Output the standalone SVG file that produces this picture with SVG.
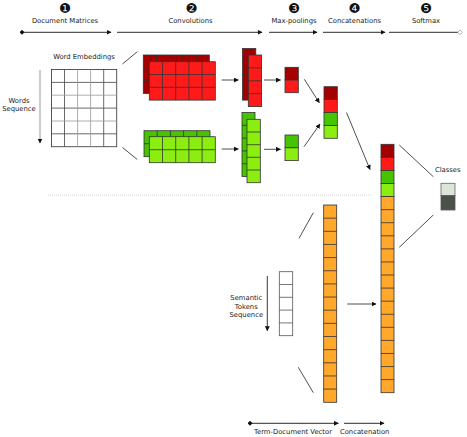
<svg xmlns="http://www.w3.org/2000/svg" width="467" height="437" viewBox="0 0 467 437">
<defs>
<marker id="ah" viewBox="0 0 10 10" refX="9" refY="5" markerWidth="5" markerHeight="5" markerUnits="userSpaceOnUse" orient="auto"><path d="M0,0 L10,5 L0,10 z" fill="#111"/></marker>
<marker id="dm" viewBox="0 0 10 10" refX="5" refY="5" markerWidth="5" markerHeight="5" markerUnits="userSpaceOnUse" orient="auto"><path d="M0,5 L5,0 L10,5 L5,10 z" fill="#111"/></marker>
<marker id="dmo" viewBox="0 0 10 10" refX="5" refY="5" markerWidth="6" markerHeight="6" markerUnits="userSpaceOnUse" orient="auto"><path d="M1,5 L5,1 L9,5 L5,9 z" fill="#fff" stroke="#999" stroke-width="1.3"/></marker>
</defs>
<style>
text{font-family:"DejaVu Sans","Liberation Sans",sans-serif;font-size:6.8px;fill:#222;text-anchor:middle}
.num{font-size:13.5px;fill:#111}
.cell{stroke:#333;stroke-width:0.8}
.div{fill:none;stroke:#333;stroke-width:0.8}
.dr{fill:#a30000}
.rd{fill:#ff1a1a}
.dg{fill:#46c400}
.lg{fill:#8ced10}
.or{fill:#ffa82c}
.wh{fill:#fff}
.ln{fill:none;stroke:#222;stroke-width:0.8}
.hd{fill:none;stroke:#555;stroke-width:1.3}
</style>
<rect width="467" height="437" fill="#fff"/>

<g id="header">
<text class="num" x="65" y="13">❶</text>
<text class="num" x="191.5" y="13">❷</text>
<text class="num" x="294" y="13">❸</text>
<text class="num" x="354.5" y="13">❹</text>
<text class="num" x="426" y="13">❺</text>
<text x="65" y="23">Document Matrices</text>
<text x="190.5" y="23">Convolutions</text>
<text x="294" y="23">Max-poolings</text>
<text x="354.5" y="23">Concatenations</text>
<text x="426" y="23">Softmax</text>
</g>

<g id="word-matrix">
<rect class="wh" x="51.5" y="69.5" width="65.2" height="77.2" stroke="#444" stroke-width="0.9"/>
<path fill="none" stroke="#444" stroke-width="0.8" d="M64.5,69.5V146.7M103.7,69.5V146.7M51.5,82.4H116.7M51.5,108.1H116.7M51.5,133.8H116.7"/>
<path fill="none" stroke="#999" stroke-width="0.8" d="M77.6,69.5V146.7M90.6,69.5V146.7M51.5,95.2H116.7M51.5,121H116.7"/>
<text x="84" y="58.5">Word Embeddings</text>
<text x="19" y="103">Words</text>
<text x="19" y="111">Sequence</text>
</g>

<g id="conv-red">
<rect class="cell dr" x="143.3" y="55" width="66" height="38.4"/>
<path class="div" d="M156.5,55V93.4M169.7,55V93.4M182.9,55V93.4M196.1,55V93.4M143.3,67.8H209.3M143.3,80.6H209.3"/>
<rect class="cell rd" x="149.3" y="61.7" width="66" height="38.4"/>
<path class="div" d="M162.5,61.7V100.1M175.7,61.7V100.1M188.9,61.7V100.1M202.1,61.7V100.1M149.3,74.5H215.3M149.3,87.3H215.3"/>
</g>

<g id="conv-green">
<rect class="cell dg" x="144" y="130.7" width="66" height="26"/>
<path class="div" d="M157.2,130.7V156.7M170.4,130.7V156.7M183.6,130.7V156.7M196.8,130.7V156.7M144,143.7H210"/>
<rect class="cell lg" x="149.3" y="136.7" width="66" height="26"/>
<path class="div" d="M162.5,136.7V162.7M175.7,136.7V162.7M188.9,136.7V162.7M202.1,136.7V162.7M149.3,149.7H215.3"/>
</g>

<g id="features-red">
<rect class="cell dr" x="242.5" y="48.5" width="13.3" height="51.6"/>
<path class="div" d="M242.5,61.4H255.8M242.5,74.3H255.8M242.5,87.2H255.8"/>
<rect class="cell rd" x="248.3" y="55" width="13.3" height="51.6"/>
<path class="div" d="M248.3,67.9H261.6M248.3,80.8H261.6M248.3,93.7H261.6"/>
</g>

<g id="features-green">
<rect class="cell dg" x="242" y="112.5" width="13" height="64"/>
<path class="div" d="M242,125.3H255M242,138.1H255M242,150.9H255M242,163.7H255"/>
<rect class="cell lg" x="247" y="119.3" width="13.3" height="63.4"/>
<path class="div" d="M247,132H260.3M247,144.7H260.3M247,157.3H260.3M247,170H260.3"/>
</g>

<g id="maxpool-red">
<rect class="cell dr" x="285" y="67.3" width="13.3" height="12.7"/>
<rect class="cell rd" x="285" y="80" width="13.3" height="12.7"/>
</g>

<g id="maxpool-green">
<rect class="cell dg" x="285" y="135" width="13.3" height="12.8"/>
<rect class="cell lg" x="285" y="147.8" width="13.3" height="12.8"/>
</g>

<g id="concat-1">
<rect class="cell dr" x="324" y="86.7" width="13.3" height="12.9"/>
<rect class="cell rd" x="324" y="99.6" width="13.3" height="12.9"/>
<rect class="cell dg" x="324" y="112.5" width="13.3" height="12.9"/>
<rect class="cell lg" x="324" y="125.4" width="13.3" height="12.9"/>
</g>

<g id="concat-2">
<rect class="cell dr" x="381" y="144.3" width="13" height="13.07"/>
<rect class="cell rd" x="381" y="157.37" width="13" height="13.07"/>
<rect class="cell dg" x="381" y="170.44" width="13" height="13.07"/>
<rect class="cell lg" x="381" y="183.51" width="13" height="13.07"/>
<rect class="cell or" x="381" y="196.58" width="13" height="196.12"/>
<path class="div" d="M381,209.65H394M381,222.73H394M381,235.8H394M381,248.88H394M381,261.95H394M381,275.02H394M381,288.1H394M381,301.17H394M381,314.25H394M381,327.32H394M381,340.4H394M381,353.47H394M381,366.55H394M381,379.62H394"/>
</g>

<g id="term-document-vector">
<rect class="cell or" x="323.7" y="205" width="13" height="197.3"/>
<path class="div" d="M323.7,218.15H336.7M323.7,231.3H336.7M323.7,244.45H336.7M323.7,257.6H336.7M323.7,270.75H336.7M323.7,283.9H336.7M323.7,297.05H336.7M323.7,310.2H336.7M323.7,323.35H336.7M323.7,336.5H336.7M323.7,349.65H336.7M323.7,362.8H336.7M323.7,375.95H336.7M323.7,389.1H336.7"/>
</g>

<g id="semantic-tokens">
<rect class="wh" x="279.3" y="271.7" width="13.4" height="64" stroke="#555" stroke-width="0.8"/>
<path fill="none" stroke="#555" stroke-width="0.8" d="M279.3,284.5H292.7M279.3,297.3H292.7M279.3,310.1H292.7M279.3,322.9H292.7"/>
<text x="246.3" y="300">Semantic</text>
<text x="246.3" y="308.5">Tokens</text>
<text x="246.3" y="317">Sequence</text>
</g>

<g id="classes">
<rect x="441" y="183.3" width="14" height="12.4" fill="#dde5d8" stroke="#666" stroke-width="0.8"/>
<rect x="441" y="195.7" width="14" height="14.3" fill="#4b514a" stroke="#555" stroke-width="0.8"/>
<text x="447.7" y="172.3">Classes</text>
</g>

<g id="footer">
<text x="293" y="434.3">Term-Document Vector</text>
<text x="364.7" y="434.3">Concatenation</text>
</g>

<g id="connectors">
<line class="hd" x1="22" y1="32.3" x2="111" y2="32.3" marker-start="url(#dm)" marker-end="url(#ah)"/>
<line class="hd" x1="117" y1="32.3" x2="262" y2="32.3" marker-end="url(#ah)"/>
<line class="hd" x1="269" y1="32.3" x2="317" y2="32.3" marker-end="url(#ah)"/>
<line class="hd" x1="323" y1="32.3" x2="385" y2="32.3" marker-end="url(#ah)"/>
<line class="hd" x1="389" y1="32.3" x2="460" y2="32.3" marker-end="url(#dmo)"/>
<line x1="40" y1="70" x2="40" y2="143" stroke="#999" stroke-width="1" marker-end="url(#ah)"/>
<line x1="48" y1="195" x2="372" y2="195" stroke="#ccc" stroke-width="0.8" stroke-dasharray="1,1"/>
<line class="ln" x1="122.5" y1="64" x2="137.3" y2="51.7"/>
<line class="ln" x1="122.5" y1="147.5" x2="137.3" y2="159.5"/>
<line class="ln" x1="221.7" y1="80" x2="238.3" y2="80" marker-end="url(#ah)"/>
<line class="ln" x1="221.7" y1="149" x2="238.3" y2="149" marker-end="url(#ah)"/>
<line class="ln" x1="264" y1="80" x2="280.5" y2="80" marker-end="url(#ah)"/>
<line class="ln" x1="264" y1="149.3" x2="280.5" y2="149.3" marker-end="url(#ah)"/>
<line class="ln" x1="304.3" y1="79.3" x2="319.3" y2="102.7" marker-end="url(#ah)"/>
<line class="ln" x1="304" y1="146.7" x2="320" y2="124" marker-end="url(#ah)"/>
<line class="ln" x1="346.5" y1="112.5" x2="370" y2="169.5" marker-end="url(#ah)"/>
<line class="ln" x1="347.3" y1="304" x2="376" y2="304" marker-end="url(#ah)"/>
<line class="ln" x1="399.3" y1="145" x2="433.3" y2="176.7"/>
<line class="ln" x1="399.3" y1="247.3" x2="433.3" y2="215"/>
<line class="ln" x1="299" y1="238.3" x2="313.3" y2="212.7"/>
<line class="ln" x1="298.3" y1="367.3" x2="313.3" y2="392.7"/>
<line x1="267.3" y1="276" x2="267.3" y2="330.7" stroke="#222" stroke-width="0.9" marker-end="url(#ah)"/>
<line class="hd" x1="250" y1="423.3" x2="338.3" y2="423.3" marker-start="url(#dm)" marker-end="url(#ah)"/>
<line class="hd" x1="344" y1="423.3" x2="384" y2="423.3" marker-end="url(#ah)"/>
</g>
</svg>
